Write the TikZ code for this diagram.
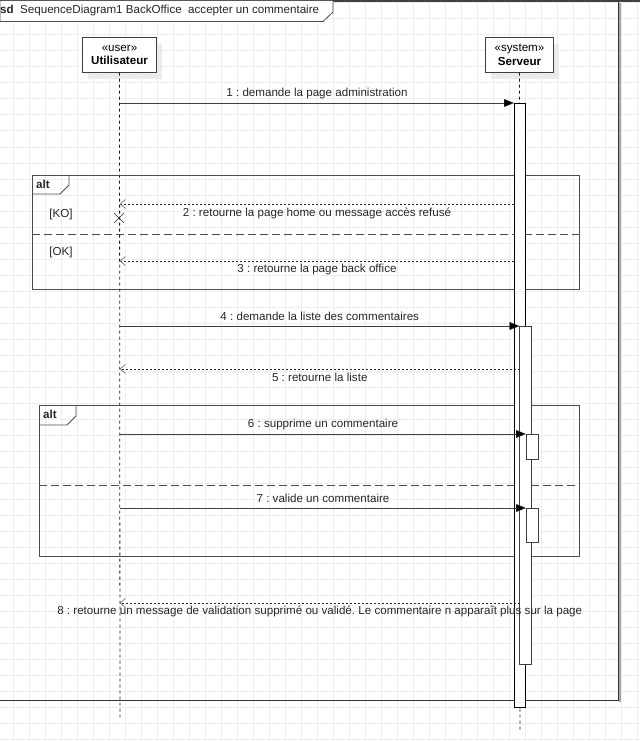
\documentclass[tikz,border=0pt]{standalone}
\usepackage{fontspec}
\setmainfont{Liberation Sans}
\frenchspacing
\usetikzlibrary{arrows.meta}
\tikzset{lifebox/.style={draw=black!75, fill=white, minimum width=74pt, minimum height=35pt, align=center, inner sep=1pt, font=\fontsize{11.6}{13.6}\selectfont}}
\tikzset{lifeline/.style={draw=black!90, line width=0.8pt, dash pattern=on 3pt off 3pt}}
\tikzset{actbar/.style={draw=black!75, fill=white}}
\tikzset{call/.style={-{Triangle[length=10pt,width=8pt,fill=black]}, draw=black!75}}
\tikzset{reply/.style={-{Straight Barb[length=5pt,width=9pt]}, draw=black!85, dash pattern=on 2pt off 2pt}}
\tikzset{fragment/.style={draw=black!70, line width=0.8pt}}
\tikzset{guardsep/.style={draw=black!70, dash pattern=on 8pt off 4pt, line width=0.8pt}}
\tikzset{msg/.style={font=\fontsize{11.6}{13.6}\selectfont, inner sep=0pt, text=black!85}}

\begin{document}
\begin{tikzpicture}[x=1pt, y=-1pt]
    \useasboundingbox (0,0) rectangle (640,741);
    % grid
    \foreach \gx in {12.7,28.7,...,640} \draw[black!7] (\gx,0) -- (\gx,741);
    \foreach \gy in {2.7,18.7,...,741} \draw[black!7] (0,\gy) -- (640,\gy);
    % frame sd
    \draw[black!35, line width=1.5pt] (620,3) -- (620,702);
    \draw[black!80, line width=0.8pt] (0,700) -- (618,700) -- (618,1);
    \draw[black!75, line width=2pt] (0,1) -- (640,1);
    \draw[fragment, fill=white] (0,1) -- (0,21.5) -- (323,21.5) -- (333,12) -- (333,1);
    \node[msg, anchor=west] (title) at (0,11) {\textbf{sd}\ \ SequenceDiagram1 BackOffice\ \ accepter un commentaire};
    % lifelines
    \fill[black!8] (88,44) rectangle (162,79);
    \fill[black!8] (491,44) rectangle (559,79);
    \node[lifebox] (user) at (119.5,55) {«user»\\\textbf{Utilisateur}};
    \node[lifebox, minimum width=68pt] (server) at (519.5,55) {«system»\\\textbf{Serveur}};
    \coordinate (userEnd) at (120,718);
    \coordinate (serverEnd) at (520,730);
    \draw[lifeline] (user.south) -- (userEnd);
    \draw[lifeline] (server.south) -- (serverEnd);
    % alt 1
    \draw[fragment] (32,175) rectangle (579,289);
    \draw[fragment] (32,194) -- (60,194) -- (69,185) -- (69,175);
    \node[msg, anchor=west] (alt1) at (36,184) {\textbf{alt}};
    \draw[guardsep] (32,234) -- (579,234);
    \node[msg] (ko) at (61,214) {[KO]};
    \node[msg] (ok) at (61,252) {[OK]};
    % alt 2
    \draw[fragment] (39,405) rectangle (579,556);
    \draw[fragment] (39,425) -- (67,425) -- (76,416) -- (76,405);
    \node[msg, anchor=west] (alt2) at (43,414) {\textbf{alt}};
    \draw[guardsep] (39,485) -- (579,485);
    % activations
    \draw[actbar, draw=black] (514,103) rectangle (525.5,707);
    \draw[actbar] (519.5,326) rectangle (531.5,664);
    \draw[actbar] (526,434) rectangle (538,459);
    \draw[actbar] (526,508) rectangle (538,542);
    % messages
    \coordinate (u1) at (120,103); \coordinate (s1) at (514,103);
    \coordinate (u2) at (120,204); \coordinate (s2) at (514,204);
    \coordinate (u3) at (120,261); \coordinate (s3) at (514,261);
    \coordinate (u4) at (120,326); \coordinate (s4) at (519.5,326);
    \coordinate (u5) at (120,369); \coordinate (s5) at (519.5,369);
    \coordinate (u6) at (120,434); \coordinate (s6) at (526,434);
    \coordinate (u7) at (120,508); \coordinate (s7) at (526,508);
    \coordinate (u8) at (120,603); \coordinate (s8) at (519.5,603);
    \draw[call] (u1) -- node[msg, yshift=9pt] {1 : demande la page administration} (s1);
    \draw[reply] (s2) -- node[msg, yshift=-9pt] {2 : retourne la page home ou message accès refusé} (u2);
    \draw[reply] (s3) -- node[msg, yshift=-8pt] {3 : retourne la page back office} (u3);
    \draw[call] (u4) -- node[msg, yshift=10pt] {4 : demande la liste des commentaires} (s4);
    \draw[reply] (s5) -- node[msg, yshift=-8pt] {5 : retourne la liste} (u5);
    \draw[call] (u6) -- node[msg, yshift=10pt] {6 : supprime un commentaire} (s6);
    \draw[call] (u7) -- node[msg, yshift=10pt] {7 : valide un commentaire} (s7);
    \draw[reply] (s8) -- node[msg, yshift=-8pt] {8 : retourne un message de validation supprimé ou validé. Le commentaire n apparaît plus sur la page} (u8);
    % destruction
    \coordinate (kill) at (119,218);
    \draw[black!85] ([shift={(-5,-5)}]kill) -- ([shift={(5,5)}]kill);
    \draw[black!85] ([shift={(-5,5)}]kill) -- ([shift={(5,-5)}]kill);
\end{tikzpicture}
\end{document}
